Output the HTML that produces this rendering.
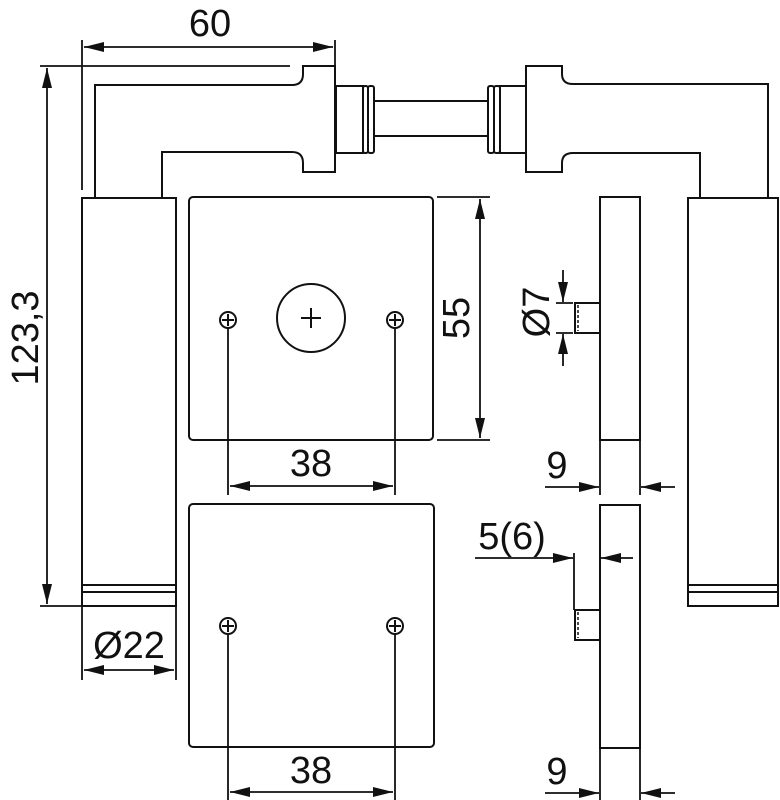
<!DOCTYPE html>
<html><head><meta charset="utf-8"><style>
html,body{margin:0;padding:0;background:#fff}
svg{display:block}
text{font-family:"Liberation Sans",sans-serif;font-size:38px;fill:#111}
</style></head><body>
<svg width="780" height="800" viewBox="0 0 780 800" xmlns="http://www.w3.org/2000/svg">
<defs>
<marker id="a" viewBox="0 0 20 10" refX="20" refY="5" markerWidth="20" markerHeight="10" markerUnits="userSpaceOnUse" orient="auto-start-reverse"><path d="M0,0 L20,5 L0,10 Z" fill="#111"/></marker>
</defs>
<g fill="none" stroke="#111" stroke-width="2">
<path d="M95,198 V85 H292 Q303,85 303,74 V66 H335 V172 H303 V163 Q303,152 292,152 H162 V198"/>
<rect x="336" y="86" width="27" height="67"/>
<rect x="363" y="86" width="5" height="67" rx="2"/>
<rect x="368" y="86" width="6" height="67" rx="2"/>
<line x1="374" y1="101" x2="488" y2="101"/>
<line x1="374" y1="136" x2="488" y2="136"/>
<rect x="488" y="86" width="6" height="67" rx="2"/>
<rect x="494" y="86" width="6" height="67" rx="2"/>
<rect x="500" y="86" width="26" height="67"/>
<path d="M768,198 V84 H573 Q562,84 562,74 V66 H526 V172 H562 V163 Q562,153 573,153 H700 V198"/>
<rect x="82" y="198" width="94" height="408"/>
<line x1="82" y1="585" x2="176" y2="585"/>
<line x1="82" y1="592" x2="176" y2="592"/>
<rect x="688" y="198" width="90" height="408"/>
<line x1="688" y1="585" x2="778" y2="585"/>
<line x1="688" y1="592" x2="778" y2="592"/>
<rect x="189" y="197" width="244" height="243" rx="4"/>
<circle cx="311" cy="318" r="34"/>
<path d="M301,318 H321 M311,308 V328"/>
<circle cx="228" cy="320" r="8"/><path d="M222,320 H234 M228,314 V326"/>
<circle cx="395" cy="320" r="8"/><path d="M389,320 H401 M395,314 V326"/>
<rect x="189" y="504" width="245" height="243" rx="4"/>
<circle cx="228" cy="626" r="8"/><path d="M222,626 H234 M228,620 V632"/>
<circle cx="395" cy="626" r="8"/><path d="M389,626 H401 M395,620 V632"/>
<rect x="600" y="197" width="40" height="243"/>
<path d="M600,303 H575 V333 H600"/>
<line x1="578" y1="305" x2="578" y2="331" stroke-dasharray="3,2" stroke-width="1.5"/>
<rect x="600" y="505" width="40" height="243"/>
<path d="M600,610 H575 V640 H600"/>
<line x1="578" y1="612" x2="578" y2="638" stroke-dasharray="3,2" stroke-width="1.5"/>
</g>
<g fill="none" stroke="#111" stroke-width="1.8">
<line x1="82" y1="40" x2="82" y2="190"/>
<line x1="335" y1="40" x2="335" y2="66"/>
<line x1="84" y1="47" x2="333" y2="47" marker-start="url(#a)" marker-end="url(#a)"/>
<line x1="40" y1="66" x2="290" y2="66"/>
<line x1="40" y1="606" x2="82" y2="606"/>
<line x1="47" y1="68" x2="47" y2="604" marker-start="url(#a)" marker-end="url(#a)"/>
<line x1="82" y1="606" x2="82" y2="680"/>
<line x1="176" y1="606" x2="176" y2="680"/>
<line x1="84" y1="670" x2="174" y2="670" marker-start="url(#a)" marker-end="url(#a)"/>
<line x1="228" y1="328" x2="228" y2="495"/>
<line x1="395" y1="328" x2="395" y2="495"/>
<line x1="230" y1="486" x2="393" y2="486" marker-start="url(#a)" marker-end="url(#a)"/>
<line x1="228" y1="634" x2="228" y2="800"/>
<line x1="395" y1="634" x2="395" y2="800"/>
<line x1="230" y1="792" x2="393" y2="792" marker-start="url(#a)" marker-end="url(#a)"/>
<line x1="437" y1="197" x2="490" y2="197"/>
<line x1="437" y1="440" x2="490" y2="440"/>
<line x1="480" y1="199" x2="480" y2="438" marker-start="url(#a)" marker-end="url(#a)"/>
<line x1="556" y1="303" x2="573" y2="303"/>
<line x1="556" y1="333" x2="573" y2="333"/>
<line x1="563" y1="270" x2="563" y2="302" marker-end="url(#a)"/>
<line x1="563" y1="366" x2="563" y2="334" marker-end="url(#a)"/>
<line x1="600" y1="440" x2="600" y2="495"/>
<line x1="640" y1="440" x2="640" y2="495"/>
<line x1="545" y1="487" x2="599" y2="487" marker-end="url(#a)"/>
<line x1="675" y1="487" x2="641" y2="487" marker-end="url(#a)"/>
<line x1="574" y1="553" x2="574" y2="610"/>
<line x1="475" y1="558" x2="573" y2="558" marker-end="url(#a)"/>
<line x1="633" y1="558" x2="601" y2="558" marker-end="url(#a)"/>
<line x1="600" y1="748" x2="600" y2="800"/>
<line x1="640" y1="748" x2="640" y2="800"/>
<line x1="545" y1="793" x2="599" y2="793" marker-end="url(#a)"/>
<line x1="675" y1="793" x2="641" y2="793" marker-end="url(#a)"/>
</g>
<text x="210" y="36" text-anchor="middle">60</text>
<text transform="translate(38,338) rotate(-90)" text-anchor="middle">123,3</text>
<text x="129" y="658" text-anchor="middle">Ø22</text>
<text x="311" y="476" text-anchor="middle">38</text>
<text x="311" y="783" text-anchor="middle">38</text>
<text transform="translate(469,318) rotate(-90)" text-anchor="middle">55</text>
<text transform="translate(549,312) rotate(-90)" text-anchor="middle">Ø7</text>
<text x="557" y="478" text-anchor="middle">9</text>
<text x="512" y="549" text-anchor="middle">5(6)</text>
<text x="557" y="784" text-anchor="middle">9</text>
</svg>
</body></html>
